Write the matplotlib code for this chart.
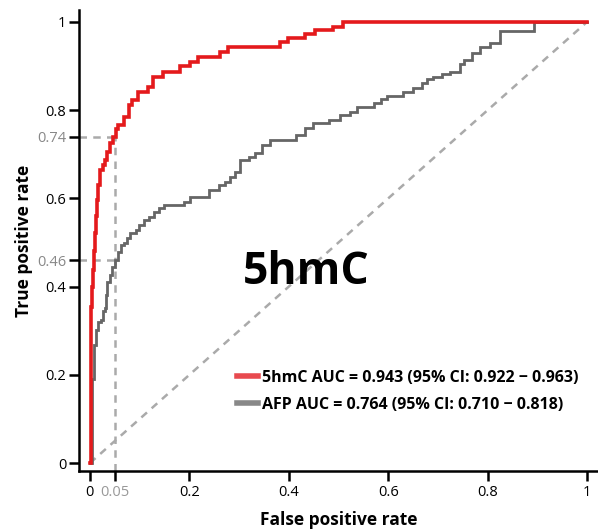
import matplotlib
matplotlib.use("Agg")
import matplotlib.pyplot as plt
from matplotlib.lines import Line2D

plt.rcParams['font.family'] = ['Open Sans', 'DejaVu Sans']

# ROC curve vertices (false positive rate, true positive rate), step-post order
fpr_5hmc = [0.000, 0.002, 0.004, 0.006, 0.008, 0.010, 0.012, 0.014, 0.016, 0.020,
            0.026, 0.030, 0.034, 0.040, 0.046, 0.052, 0.056, 0.068, 0.078, 0.085,
            0.097, 0.117, 0.127, 0.147, 0.181, 0.201, 0.217, 0.262, 0.278, 0.382,
            0.398, 0.433, 0.453, 0.489, 0.509, 1.000]
tpr_5hmc = [0.000, 0.354, 0.400, 0.438, 0.480, 0.522, 0.560, 0.596, 0.630, 0.664,
            0.675, 0.687, 0.705, 0.726, 0.740, 0.757, 0.766, 0.785, 0.812, 0.823,
            0.841, 0.853, 0.875, 0.887, 0.900, 0.909, 0.921, 0.932, 0.943, 0.955,
            0.964, 0.973, 0.982, 0.989, 1.000, 1.000]

fpr_afp = [0.000, 0.004, 0.008, 0.012, 0.016, 0.022, 0.026, 0.030, 0.032, 0.034,
           0.040, 0.044, 0.050, 0.056, 0.062, 0.068, 0.074, 0.080, 0.093, 0.099,
           0.109, 0.119, 0.129, 0.139, 0.149, 0.189, 0.201, 0.239, 0.260, 0.272,
           0.282, 0.292, 0.302, 0.320, 0.332, 0.346, 0.362, 0.414, 0.433, 0.449,
           0.481, 0.503, 0.523, 0.537, 0.571, 0.585, 0.598, 0.630, 0.650, 0.668,
           0.678, 0.690, 0.708, 0.724, 0.744, 0.752, 0.769, 0.785, 0.805, 0.825,
           0.893, 1.000]
tpr_afp = [0.000, 0.190, 0.268, 0.302, 0.320, 0.324, 0.345, 0.351, 0.381, 0.410,
           0.426, 0.444, 0.460, 0.478, 0.494, 0.499, 0.510, 0.522, 0.528, 0.540,
           0.551, 0.558, 0.569, 0.578, 0.585, 0.592, 0.603, 0.619, 0.630, 0.637,
           0.649, 0.660, 0.687, 0.694, 0.703, 0.721, 0.732, 0.744, 0.760, 0.771,
           0.778, 0.789, 0.796, 0.807, 0.816, 0.825, 0.832, 0.841, 0.850, 0.862,
           0.871, 0.875, 0.882, 0.887, 0.905, 0.914, 0.930, 0.943, 0.952, 0.980,
           1.000, 1.000]

legend_labels = ["5hmC AUC = 0.943 (95% CI: 0.922 \u2212 0.963)",
                 "AFP AUC = 0.764 (95% CI: 0.710 \u2212 0.818)"]

cutoff_fpr = 0.05
cutoff_tpr = [0.74, 0.46]

x_ticks = [0, 0.2, 0.4, 0.6, 0.8, 1]
x_ticklabels = ["0", "0.2", "0.4", "0.6", "0.8", "1"]
y_ticks = [0, 0.2, 0.4, 0.6, 0.8, 1]
y_ticklabels = ["0", "0.2", "0.4", "0.6", "0.8", "1"]

RED = "#E41A1C"
DARK = "#666666"
LIGHT = "#AAAAAA"

W, H = 598, 530
fig = plt.figure(figsize=(W / 100, H / 100), dpi=100)
ax = fig.add_axes([79 / W, (H - 471) / H, (598 - 79) / W, (471 - 10) / H])

xlo, xhi = -0.022, 1.022
ylo, yhi = -0.018, 1.027
ax.set_xlim(xlo, xhi)
ax.set_ylim(ylo, yhi)

# reference diagonal
ax.plot([0, 1], [0, 1], color=LIGHT, lw=1.8, ls=(0, (3, 2.5)), zorder=1)

# cutoff guide lines
ax.plot([cutoff_fpr, cutoff_fpr], [ylo, cutoff_tpr[0]], color=LIGHT, lw=1.8,
        ls=(0, (3, 2.5)), zorder=1, clip_on=False)
for t in cutoff_tpr:
    ax.plot([xlo, cutoff_fpr], [t, t], color=LIGHT, lw=1.8, ls=(0, (3, 2.5)),
            zorder=1, clip_on=False)

ax.plot(fpr_afp, tpr_afp, color=DARK, lw=2.0, drawstyle="steps-post", zorder=2,
        solid_joinstyle="miter")
ax.plot(fpr_5hmc, tpr_5hmc, color=RED, lw=2.6, drawstyle="steps-post", zorder=3,
        solid_joinstyle="miter")

# spines
for s in ["top", "right"]:
    ax.spines[s].set_visible(False)
for s in ["left", "bottom"]:
    ax.spines[s].set_linewidth(1.8)
    ax.spines[s].set_color("black")

ax.set_xticks(x_ticks + [cutoff_fpr])
ax.set_xticklabels(x_ticklabels + ["0.05"])
ax.set_yticks(y_ticks + cutoff_tpr)
ax.set_yticklabels(y_ticklabels + ["0.74", "0.46"])
ax.tick_params(axis="both", direction="out", length=7, width=1.8, labelsize=10.5,
               colors="black")
ax.tick_params(axis="x", pad=3)
ax.tick_params(axis="y", pad=2)
for lab in ax.get_xticklabels():
    if lab.get_text() == "0.05":
        lab.set_color("#999999")
for lab, tl in zip(ax.get_yticklabels(), ax.yaxis.get_major_ticks()):
    if lab.get_text() in ("0.74", "0.46"):
        lab.set_color("#888888")
        tl.tick1line.set_color(LIGHT)

ax.set_xlabel("False positive rate", fontsize=12.5, fontweight="bold", labelpad=8)
ax.set_ylabel("True positive rate", fontsize=12.5, fontweight="bold", labelpad=3)

ax.text(0.435, 0.433, "5hmC", fontsize=32, fontweight="bold", ha="center",
        va="center", zorder=4)

handles = [Line2D([0], [0], color="#E84A4F", lw=4),
           Line2D([0], [0], color="#888888", lw=4)]
ax.legend(handles, legend_labels, loc="center left", bbox_to_anchor=(0.304, 0.173),
          frameon=False, prop={"weight": "bold", "size": 11.5}, handlelength=1.3,
          handletextpad=0.3, labelspacing=0.7, borderpad=0, borderaxespad=0)

fig.savefig("out.png", dpi=100)
